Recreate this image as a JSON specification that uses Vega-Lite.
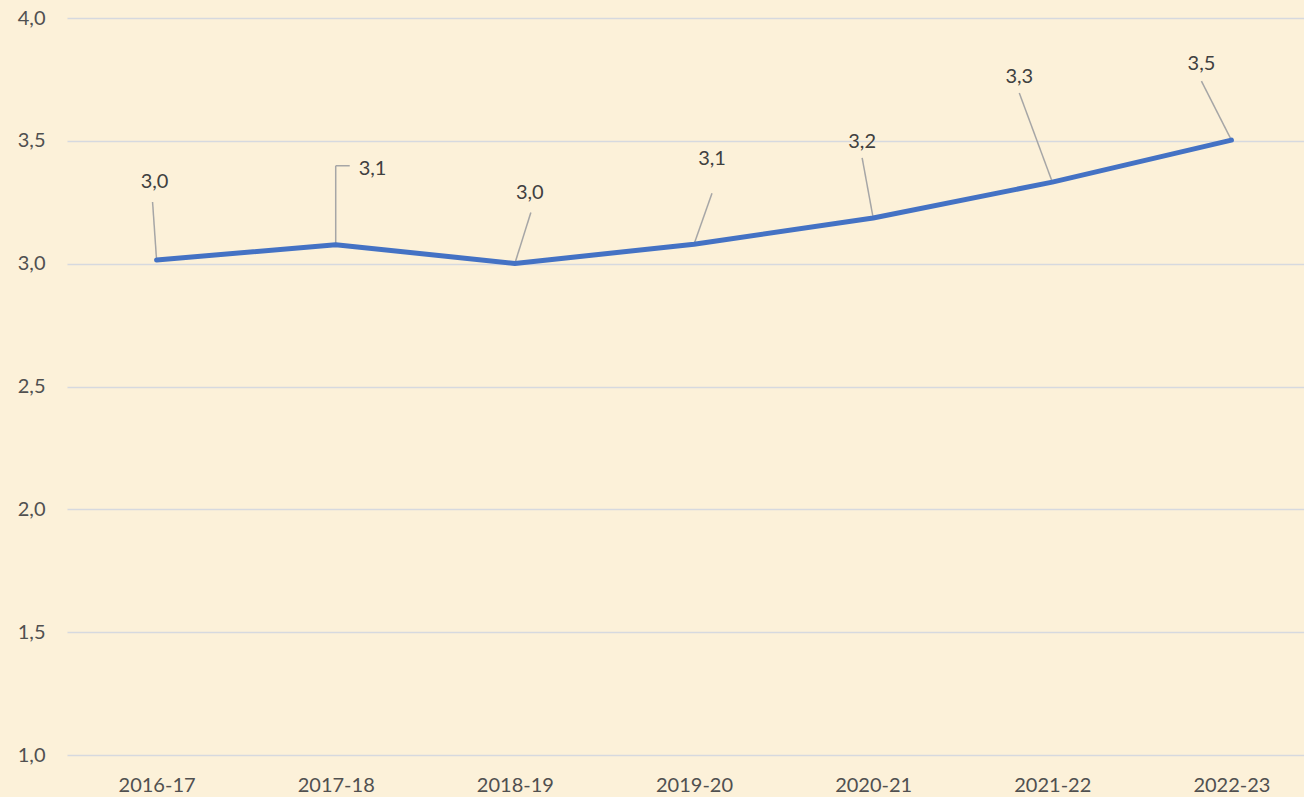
{
  "$schema": "https://vega.github.io/schema/vega-lite/v6.json",
  "width": 1254,
  "height": 737,
  "autosize": {"type": "none"},
  "padding": {"left": 67, "top": 18, "right": -17, "bottom": 42},
  "background": "#fcf1d9",
  "data": {
    "values": [
      {"year": "2016-17", "value": 3.015},
      {"year": "2017-18", "value": 3.077},
      {"year": "2018-19", "value": 3.001},
      {"year": "2019-20", "value": 3.079},
      {"year": "2020-21", "value": 3.186},
      {"year": "2021-22", "value": 3.332},
      {"year": "2022-23", "value": 3.503}
    ]
  },
  "encoding": {
    "x": {
      "field": "year",
      "type": "nominal",
      "sort": null,
      "scale": {"type": "point", "padding": 0.5},
      "axis": {"title": null, "domain": false, "ticks": false, "labelAngle": 0, "labelPadding": 20, "labelFontSize": 20, "labelColor": "#505050", "grid": false}
    },
    "y": {
      "field": "value",
      "type": "quantitative",
      "scale": {"domain": [1, 4], "nice": false, "zero": false},
      "axis": {"title": null, "domain": false, "ticks": false, "values": [1, 1.5, 2, 2.5, 3, 3.5, 4], "format": ".1f", "labelPadding": 22, "labelFontSize": 20, "labelColor": "#505050", "gridColor": "#d6d9df", "gridWidth": 1.5}
    }
  },
  "layer": [
    {
      "transform": [{"filter": "datum.year == '2016-17'"}],
      "layer": [
        {"mark": {"type": "rule", "color": "#a6a6a6", "strokeWidth": 1.5, "x2Offset": -4, "y2Offset": -58}, "encoding": {"x2": {"field": "year"}, "y2": {"field": "value"}}},
        {"mark": {"type": "text", "align": "center", "baseline": "middle", "dx": -2, "dy": -78, "fontSize": 20, "color": "#404040"}, "encoding": {"text": {"field": "value", "type": "quantitative", "format": ".1f"}}}
      ]
    },
    {
      "transform": [{"filter": "datum.year == '2017-18'"}],
      "layer": [
        {"mark": {"type": "rule", "color": "#a6a6a6", "strokeWidth": 1.5, "x2Offset": 0, "y2Offset": -79}, "encoding": {"x2": {"field": "year"}, "y2": {"field": "value"}}},
        {"mark": {"type": "rule", "color": "#a6a6a6", "strokeWidth": 1.5, "yOffset": -79, "x2Offset": 14, "y2Offset": -79}, "encoding": {"x2": {"field": "year"}, "y2": {"field": "value"}}},
        {"mark": {"type": "text", "align": "left", "baseline": "middle", "dx": 23, "dy": -76, "fontSize": 20, "color": "#404040"}, "encoding": {"text": {"field": "value", "type": "quantitative", "format": ".1f"}}}
      ]
    },
    {
      "transform": [{"filter": "datum.year == '2018-19'"}],
      "layer": [
        {"mark": {"type": "rule", "color": "#a6a6a6", "strokeWidth": 1.5, "x2Offset": 16, "y2Offset": -51}, "encoding": {"x2": {"field": "year"}, "y2": {"field": "value"}}},
        {"mark": {"type": "text", "align": "center", "baseline": "middle", "dx": 15, "dy": -70, "fontSize": 20, "color": "#404040"}, "encoding": {"text": {"field": "value", "type": "quantitative", "format": ".1f"}}}
      ]
    },
    {
      "transform": [{"filter": "datum.year == '2019-20'"}],
      "layer": [
        {"mark": {"type": "rule", "color": "#a6a6a6", "strokeWidth": 1.5, "x2Offset": 18, "y2Offset": -51}, "encoding": {"x2": {"field": "year"}, "y2": {"field": "value"}}},
        {"mark": {"type": "text", "align": "center", "baseline": "middle", "dx": 18, "dy": -85, "fontSize": 20, "color": "#404040"}, "encoding": {"text": {"field": "value", "type": "quantitative", "format": ".1f"}}}
      ]
    },
    {
      "transform": [{"filter": "datum.year == '2020-21'"}],
      "layer": [
        {"mark": {"type": "rule", "color": "#a6a6a6", "strokeWidth": 1.5, "x2Offset": -11, "y2Offset": -60}, "encoding": {"x2": {"field": "year"}, "y2": {"field": "value"}}},
        {"mark": {"type": "text", "align": "center", "baseline": "middle", "dx": -11, "dy": -76, "fontSize": 20, "color": "#404040"}, "encoding": {"text": {"field": "value", "type": "quantitative", "format": ".1f"}}}
      ]
    },
    {
      "transform": [{"filter": "datum.year == '2021-22'"}],
      "layer": [
        {"mark": {"type": "rule", "color": "#a6a6a6", "strokeWidth": 1.5, "x2Offset": -33, "y2Offset": -89}, "encoding": {"x2": {"field": "year"}, "y2": {"field": "value"}}},
        {"mark": {"type": "text", "align": "center", "baseline": "middle", "dx": -33, "dy": -105, "fontSize": 20, "color": "#404040"}, "encoding": {"text": {"field": "value", "type": "quantitative", "format": ".1f"}}}
      ]
    },
    {
      "transform": [{"filter": "datum.year == '2022-23'"}],
      "layer": [
        {"mark": {"type": "rule", "color": "#a6a6a6", "strokeWidth": 1.5, "x2Offset": -30, "y2Offset": -59}, "encoding": {"x2": {"field": "year"}, "y2": {"field": "value"}}},
        {"mark": {"type": "text", "align": "center", "baseline": "middle", "dx": -30, "dy": -76, "fontSize": 20, "color": "#404040"}, "encoding": {"text": {"field": "value", "type": "quantitative", "format": ".1f"}}}
      ]
    },
    {
      "mark": {"type": "line", "color": "#4472c4", "strokeWidth": 5, "interpolate": "linear", "strokeCap": "round", "strokeJoin": "round"}
    }
  ],
  "config": {
    "font": "Lato",
    "view": {"stroke": null},
    "locale": {"number": {"decimal": ",", "thousands": ".", "grouping": [3], "currency": ["", " €"]}}
  }
}
